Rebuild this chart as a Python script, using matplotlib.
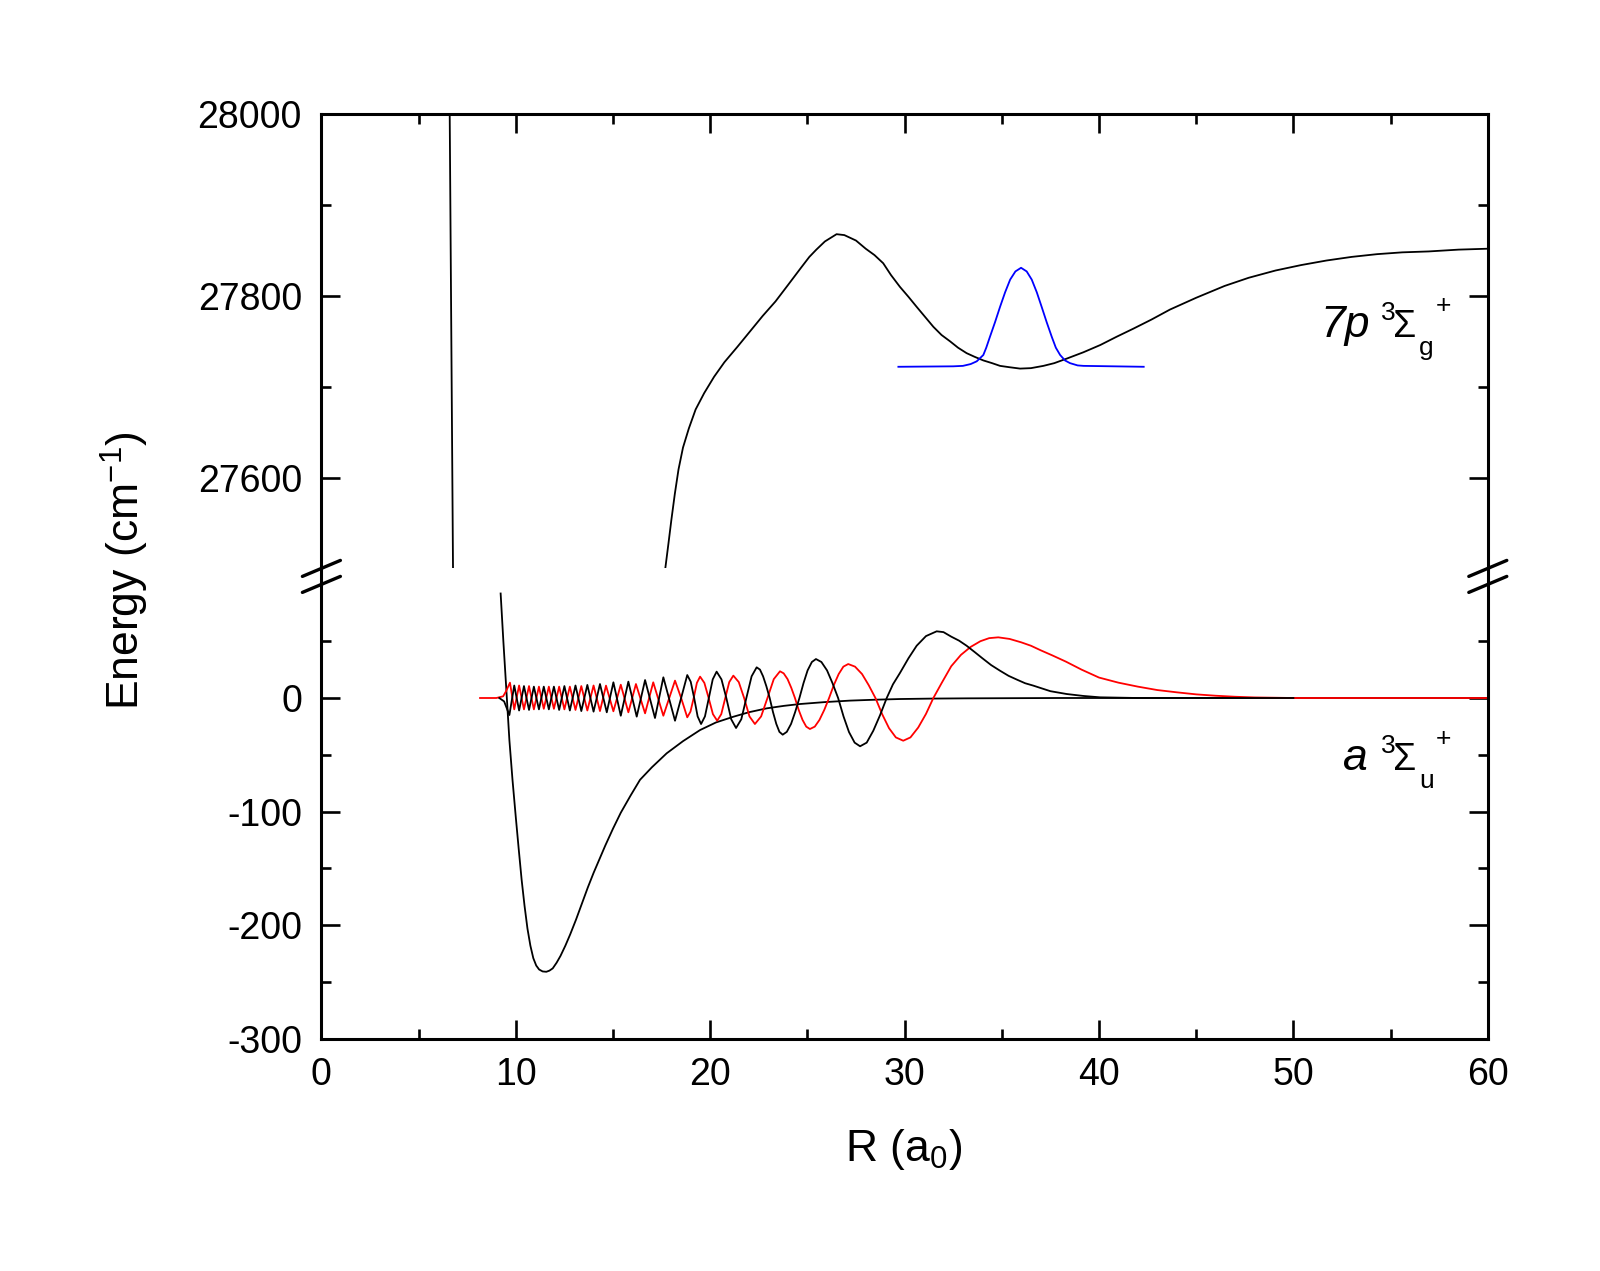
import matplotlib
matplotlib.use('Agg')
import matplotlib.pyplot as plt
from matplotlib.lines import Line2D
from matplotlib.ticker import FixedLocator, MultipleLocator

plt.rcParams['font.family'] = ['Liberation Sans', 'DejaVu Sans']
plt.rcParams['mathtext.fontset'] = 'custom'
plt.rcParams['mathtext.rm'] = 'Liberation Sans'
plt.rcParams['mathtext.it'] = 'Liberation Sans:italic'
plt.rcParams['axes.unicode_minus'] = False

# ---- data ----
# steep wall at left of upper panel
r_wall = [6.60, 6.77]
e_wall = [28000, 27500]

# 7p 3Sigma_g+ potential
r_7p = [17.69, 17.85, 18.0, 18.18, 18.37, 18.6, 18.9, 19.25, 19.69, 20.2,
        20.73, 21.4, 22.05, 22.7, 23.36, 24.0, 24.67, 25.1, 25.46, 25.9,
        26.5, 26.9, 27.5, 28.0, 28.45, 28.90, 29.3, 29.76, 30.2, 30.62,
        31.05, 31.48, 31.9, 32.34, 32.75, 33.19, 33.6, 34.05, 34.5, 34.91,
        35.4, 35.94, 36.5, 37.14, 37.7, 38.34, 39.2, 40.07, 40.9, 41.77,
        42.7, 43.65, 45.0, 46.46, 47.7, 49.08, 50.4, 51.7, 53.0, 54.3,
        55.6, 56.96, 58.5, 60.0]
e_7p = [27500, 27527, 27553, 27582, 27609, 27633, 27654, 27675, 27693, 27711,
        27727, 27744, 27761, 27778, 27794, 27812, 27831, 27843, 27851, 27860,
        27868, 27867, 27861, 27852, 27845, 27836, 27823, 27810, 27799, 27788,
        27777, 27766, 27757, 27750, 27743, 27737, 27733, 27729, 27726, 27723,
        27721.5, 27720, 27720.5, 27723, 27726, 27731, 27738, 27746, 27755, 27764,
        27774, 27785, 27798, 27811, 27820, 27828, 27834, 27839, 27843, 27846,
        27848, 27849, 27851, 27852]

# vibrational wavefunction in the 7p well (blue)
r_blue = [29.68, 32.5, 33.0, 33.4, 33.71, 34.05, 34.2, 34.39, 34.65, 34.91,
          35.17, 35.43, 35.7, 35.99, 36.28, 36.54, 36.8, 37.05, 37.31, 37.57,
          37.78, 38.0, 38.25, 38.51, 38.9, 39.2, 42.3]
e_blue = [27722, 27722.5, 27723, 27725, 27728, 27735, 27743, 27755, 27771, 27788,
          27804, 27818, 27827, 27831, 27827, 27818, 27804, 27788, 27771, 27755,
          27743, 27735, 27729, 27726, 27723.5, 27723, 27722]

# a 3Sigma_u+ potential
r_a = [9.22, 9.36, 9.5, 9.67, 9.83, 10.0, 10.15, 10.3, 10.45, 10.6,
       10.75, 10.9, 11.05, 11.2, 11.38, 11.57, 11.73, 11.9, 12.1, 12.3,
       12.55, 12.8, 13.1, 13.4, 13.7, 14.0, 14.3, 14.6, 15.0, 15.4,
       15.9, 16.39, 17.0, 17.76, 18.6, 19.48, 20.3, 21.19, 22.0, 22.91,
       23.8, 24.62, 25.9, 27.19, 28.5, 29.76, 31.5, 33.19, 38.0, 60.0]
e_a = [92, 50, 11, -37, -72, -105, -133, -160, -183, -203,
       -218, -229, -235.5, -239, -240.7, -241, -240, -238, -233, -227,
       -218, -208, -195, -181, -167, -154, -142, -130, -115, -101,
       -86, -72, -61, -48.7, -38, -28.2, -21.5, -16.5, -12.5, -9.1,
       -6.9, -5.3, -3.6, -2.3, -1.5, -0.9, -0.5, -0.3, 0, 0]

# black wavefunction
r_psi_k = [9.15, 9.4, 9.67, 9.92, 10.17, 10.42, 10.68, 10.93, 11.19, 11.44,
           11.70, 11.96, 12.23, 12.50, 12.78, 13.07, 13.37, 13.68, 14.0, 14.33,
           14.68, 15.02, 15.40, 15.79, 16.22, 16.65, 17.16, 17.59, 18.19, 18.505,
           18.82, 18.998, 19.175, 19.353, 19.53, 19.73, 19.93, 20.13, 20.33, 20.58,
           20.83, 21.08, 21.33, 21.6, 21.86, 22.13, 22.39, 22.56, 22.72, 22.89,
           23.06, 23.23, 23.4, 23.56, 23.73, 23.94, 24.16, 24.37, 24.59, 24.8,
           25.01, 25.23, 25.44, 25.72, 26.01, 26.29, 26.58, 26.86, 27.14, 27.43,
           27.71, 28.05, 28.39, 28.74, 29.08, 29.4, 29.76, 30.2, 30.62, 31.1,
           31.65, 32.0, 32.4, 32.8, 33.19, 33.6, 34.0, 34.45, 34.91, 35.35,
           35.8, 36.2, 36.62, 37.05, 37.5, 38.34, 39.2, 40.05, 42.0, 50.0]
psi_k = [0, -3, -15, 11, -11, 10.5, -10.5, 10, -10, 10,
         -10, 10, -10.5, 10.5, -11, 11, -11.5, 11.5, -12, 12.3,
         -12.6, 13.8, -15.6, 14.4, -16.4, 15.8, -17.6, 18.2, -20, 0,
         20.2, 14.3, 0, -16.2, -22.9, -16.2, 0, 16.4, 23.2, 16.4,
         0, -18.7, -26.4, -18.7, 0, 19.1, 27, 25, 19.1, 10.3,
         0, -12.4, -22.8, -29.8, -32.3, -29.8, -22.8, -12.4, 0, 13.1,
         24.3, 31.7, 34.3, 31.7, 24.3, 13.1, 0, -16.3, -30, -39.3,
         -42.5, -39.3, -28.8, -15, 0, 12, 22, 35, 46, 54.5,
         58.7, 58, 54, 50.5, 46, 40.5, 35, 29, 24, 19.5,
         16, 13, 10.9, 8.5, 6, 3.5, 1.8, 0.6, 0, 0]

# red wavefunction
r_psi_r = [8.16, 9.0, 9.35, 9.5, 9.70, 9.92, 10.17, 10.42, 10.68, 10.93,
           11.19, 11.44, 11.70, 11.96, 12.23, 12.50, 12.78, 13.07, 13.37, 13.68,
           14.0, 14.33, 14.64, 15.02, 15.40, 15.79, 16.18, 16.65, 17.07, 17.59,
           18.19, 18.505, 18.82, 18.985, 19.15, 19.315, 19.48, 19.70, 19.92, 20.14,
           20.36, 20.57, 20.775, 20.98, 21.19, 21.47, 21.745, 22.02, 22.30, 22.62,
           22.945, 23.27, 23.59, 23.78, 23.98, 24.17, 24.36, 24.55, 24.75, 24.94,
           25.13, 25.38, 25.62, 25.87, 26.115, 26.36, 26.61, 26.85, 27.10, 27.45,
           27.81, 28.15, 28.5, 28.85, 29.2, 29.55, 29.93, 30.3, 30.7, 31.1,
           31.48, 31.9, 32.4, 32.9, 33.4, 33.9, 34.35, 34.82, 35.4, 36.0,
           36.5, 37.0, 37.6, 38.3, 39.1, 40.0, 41.0, 42.0, 43.0, 44.0,
           45.0, 46.0, 47.0, 48.0, 50.0, 60.0]
psi_r = [0, 0, 1.5, 6, 13.5, -10, 11, -10, 10.5, -10,
         10, -9.5, 10, -9.5, 10, -10, 10, -10.5, 10.5, -11,
         11, -11.5, 10.9, -11.7, 11.7, -12.6, 12.3, -13.5, 13.8, -15.6,
         15.3, 0, -17, -12, 0, 13.3, 18.8, 13.3, 0, -14.2,
         -20, -14.2, 0, 14, 19.7, 14, 0, -16.2, -22.9, -16.2,
         0, 16.6, 23.5, 21.7, 16.6, 9, 0, -10.4, -19.3, -25.2,
         -27.3, -25.2, -19.3, -10.4, 0, 11.4, 21.1, 27.6, 29.9, 27.6,
         21.1, 11.4, 0, -14.4, -26.6, -34.7, -37.6, -34.7, -26, -14,
         0, 13, 28, 38, 45, 50, 52.7, 53.4, 52, 49,
         46, 42, 37.5, 32, 25, 18, 13.5, 10, 7, 5,
         3.2, 2, 1.1, 0.5, 0, 0]

xticks = [0, 10, 20, 30, 40, 50, 60]
yticks_top = [27600, 27800, 28000]
yticks_bot = [-300, -200, -100, 0]

# ---- figure ----
W, H = 1600, 1271
fig = plt.figure(figsize=(W / 100, H / 100), dpi=100)

def fx(x):
    return x / W

def fy(y):
    return 1 - y / H

left, right = 321.4, 1487.8
top, brk_top, brk_bot, bottom = 114.3, 568.4, 584.4, 1038.8

ax1 = fig.add_axes([fx(left), fy(brk_top), fx(right - left), (brk_top - top) / H])
ax2 = fig.add_axes([fx(left), fy(bottom), fx(right - left), (bottom - brk_bot) / H])

lw_sp = 2.2
for ax in (ax1, ax2):
    for s in ax.spines.values():
        s.set_linewidth(lw_sp)
    ax.set_xlim(0, 60)
    ax.xaxis.set_major_locator(FixedLocator(xticks))
    ax.xaxis.set_minor_locator(MultipleLocator(5))
    ax.tick_params(which='both', direction='in', width=1.9, labelsize=27,
                   left=True, right=True, pad=13)
    ax.tick_params(which='major', length=14)
    ax.tick_params(which='minor', length=7.5)

ax1.spines['bottom'].set_visible(False)
ax2.spines['top'].set_visible(False)
ax1.tick_params(axis='x', which='both', top=True, bottom=False, labelbottom=False)
ax2.tick_params(axis='x', which='both', top=False, bottom=True)
ax1.tick_params(axis='y', pad=14)
ax2.tick_params(axis='y', pad=14)

ax1.set_ylim(27500, 28000)
ax1.yaxis.set_major_locator(FixedLocator(yticks_top))
ax1.yaxis.set_minor_locator(FixedLocator([27700, 27900]))

ax2.set_ylim(-300, 100)
ax2.yaxis.set_major_locator(FixedLocator(yticks_bot))
ax2.yaxis.set_minor_locator(FixedLocator([-250, -150, -50, 50]))

lw = 1.3
ax1.plot(r_wall, e_wall, color='k', lw=lw)
ax1.plot(r_7p, e_7p, color='k', lw=lw)
ax1.plot(r_blue, e_blue, color='#0000ff', lw=lw)

ax2.plot(r_a, e_a, color='k', lw=lw)
ax2.plot(r_psi_r, psi_r, color='#ff0000', lw=lw)
ax2.plot(r_psi_k, psi_k, color='k', lw=lw)

# continuous spines through the gap plus break marks
for xs in (left, right):
    fig.add_artist(Line2D([fx(xs), fx(xs)], [fy(brk_top), fy(brk_bot)],
                          transform=fig.transFigure, color='k', lw=lw_sp))
    for yb in (brk_top, brk_bot):
        fig.add_artist(Line2D([fx(xs - 19), fx(xs + 19)], [fy(yb + 8), fy(yb - 8)],
                              transform=fig.transFigure, color='k', lw=2.4,
                              solid_capstyle='round'))

# axis labels
fig.text(fx(125), fy(571), r'Energy (cm$^{-1}$)', rotation=90, fontsize=32,
         ha='center', va='center')
fig.text(fx(904), fy(1161), r'R (a$_0$)', fontsize=32, ha='center', va='baseline')

# state labels
def state(x0, base, head, sub):
    fig.text(fx(x0), fy(base), head, fontsize=32, style='italic', va='baseline')
    fig.text(fx(1381), fy(base - 16.7), '3', fontsize=19, va='baseline')
    fig.text(fx(1393), fy(base), '\u03a3', fontsize=27, va='baseline')
    fig.text(fx(1419), fy(base + 18), sub, fontsize=19, va='baseline')
    fig.text(fx(1436), fy(base - 24), '+', fontsize=19, va='baseline')

state(1320, 336.7, '7p', 'g')
state(1343, 770, 'a', 'u')

fig.savefig('out.png', dpi=100, facecolor='white')
